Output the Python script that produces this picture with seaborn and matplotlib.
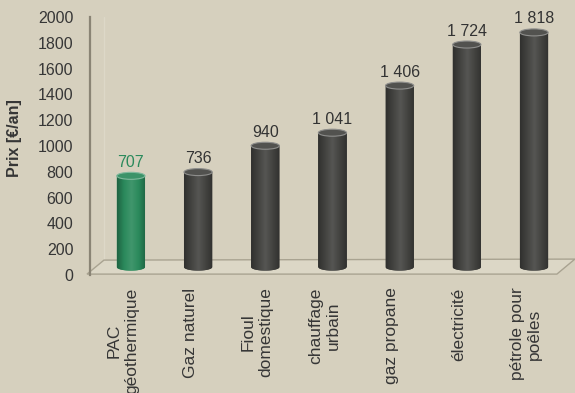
import numpy as np
import pandas as pd
import matplotlib
matplotlib.use("Agg")
import matplotlib.pyplot as plt
import seaborn as sns
from matplotlib.patches import Ellipse, Polygon, PathPatch
from matplotlib.path import Path
from matplotlib.transforms import ScaledTranslation, IdentityTransform
from matplotlib.colors import LinearSegmentedColormap, to_rgb

# Annual heating cost per energy source
categories = ["PAC\ngéothermique", "Gaz naturel", "Fioul\ndomestique",
              "chauffage\nurbain", "gaz propane", "électricité",
              "pétrole pour\npoêles"]
prices = [707, 736, 940, 1041, 1406, 1724, 1818]
value_labels = ["707", "736", "940", "1 041", "1 406", "1 724", "1 818"]
bar_colors = ["#2b8a5c", "#434340", "#434340", "#434340",
              "#434340", "#434340", "#434340"]
label_colors = ["#2b8a5c", "#333333", "#333333", "#333333",
                "#333333", "#333333", "#333333"]
y_ticks = list(range(0, 2001, 200))

BG = "#d6d0be"
TEXT = "#363636"

sns.set_theme(style="white")
plt.rcParams["font.family"] = ["Liberation Sans", "DejaVu Sans"]

fig = plt.figure(figsize=(5.75, 3.93), dpi=100, facecolor=BG)
ax = fig.add_axes([0.1565, 0.30, 0.812, 0.657])
ax.set_facecolor(BG)

df = pd.DataFrame({"energie": categories, "prix": prices})
sns.barplot(data=df, x="energie", y="prix", hue="energie",
            palette=bar_colors, width=0.42, saturation=1,
            legend=False, ax=ax)
bars = list(ax.patches)

ax.set_xlim(-0.49, 6.46)
ax.set_ylim(0, 2000)
ax.set_yticks(y_ticks)

# pixel helpers for the pseudo-3D depth
ax_h_px = ax.get_position().height * fig.get_figheight() * fig.dpi
px_per_unit = ax_h_px / 2000.0
bar_shift = ScaledTranslation(8 / fig.dpi, 8 / fig.dpi, fig.dpi_scale_trans)
bar_trans = ax.transData + bar_shift
cap_h = 7 / px_per_unit  # ellipse height in data units

# floor of the 3D box
x0, x1 = ax.get_xlim()
fl, fr = ax.transData.transform([(x0, 0), (x1, 0)])
floor = Polygon([(fl[0] - 3, fl[1] + 1), (fr[0], fr[1] + 1),
                 (fr[0] + 18, fr[1] + 16), (fl[0] + 14, fl[1] + 15)],
                closed=True, transform=IdentityTransform(),
                facecolor="#dcd7c6", edgecolor="#a9a391", lw=1.0,
                zorder=0.5, clip_on=False)
ax.add_patch(floor)
ax.plot([fl[0] + 14, fl[0] + 14], [fl[1] + 15, fl[1] + ax_h_px],
        transform=IdentityTransform(), color="#ddd8c8", lw=1.0,
        zorder=0.4, clip_on=False)

for patch, lab, lc in zip(bars, value_labels, label_colors):
    base = np.array(to_rgb(patch.get_facecolor()))
    patch.set_transform(bar_trans)
    patch.set_zorder(2)
    patch.set_edgecolor("none")
    xl, w, h = patch.get_x(), patch.get_width(), patch.get_height()
    xc = xl + w / 2

    # cylinder outline: body plus rounded bottom
    t = np.linspace(np.pi, 2 * np.pi, 40)
    bottom = np.column_stack([xc + w / 2 * np.cos(t), cap_h / 2 * np.sin(t)])
    verts = np.vstack([[(xl, h)], bottom, [(xl + w, h)], [(xl, h)]])
    body = PathPatch(Path(verts), transform=bar_trans, facecolor=base,
                     edgecolor="none", zorder=2.05)
    ax.add_patch(body)

    dark = base * 0.72
    light = np.clip(base + (1 - base) * 0.10, 0, 1)
    cmap = LinearSegmentedColormap.from_list(
        "cyl", [dark, base, light, base, dark], N=128)
    grad = np.linspace(0, 1, 128)[None, :]
    im = ax.imshow(grad, cmap=cmap, extent=(xl, xl + w, -cap_h / 2, h),
                   aspect="auto", transform=bar_trans, zorder=2.1,
                   interpolation="bilinear")
    im.set_clip_path(body)

    top = Ellipse((xc, h), w, cap_h, transform=bar_trans,
                  facecolor=np.clip(base + (1 - base) * 0.08, 0, 1),
                  edgecolor=np.clip(base + (1 - base) * 0.40, 0, 1),
                  lw=0.8, zorder=2.2)
    ax.add_patch(top)

    ax.annotate(lab, xy=(xc, h), xycoords=bar_trans, xytext=(0, 6),
                textcoords="offset pixels", ha="center", va="bottom",
                fontsize=11.5, color=lc, zorder=3)

ax.set_xlim(x0, x1)
ax.set_ylim(0, 2000)

for side in ["top", "right", "bottom"]:
    ax.spines[side].set_visible(False)
ax.spines["left"].set_color("#8a8475")
ax.spines["left"].set_linewidth(1.6)
ax.spines["left"].set_zorder(1)

ax.tick_params(axis="y", length=0, pad=12, labelsize=11.5, labelcolor=TEXT)
ax.tick_params(axis="x", length=0, pad=9, labelsize=12.5, labelcolor=TEXT)
ax.set_xticks(range(len(categories)))
ax.set_xticklabels(categories, rotation=90, ha="center", va="top",
                   multialignment="center", linespacing=1.2)

ax.set_xlabel("")
ax.set_ylabel("Prix [€/an]", fontsize=11.5, fontweight="bold", color=TEXT)
ax.yaxis.set_label_coords(-0.145, 0.53)
ax.grid(False)

fig.savefig("out.png", dpi=100, facecolor=BG)
